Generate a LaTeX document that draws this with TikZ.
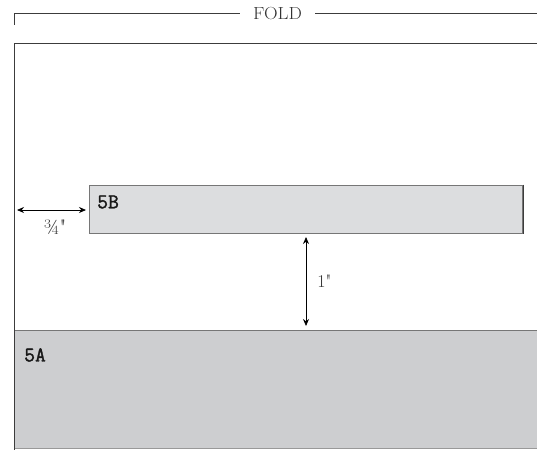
\documentclass[tikz,border=0pt]{standalone}
\usepackage{fontspec}
\newfontfamily\dimfont{Latin Modern Roman}
\newfontfamily\panelfont[FakeBold=1.6]{Latin Modern Mono}
\usetikzlibrary{arrows.meta}
\definecolor{linec}{HTML}{3C3C3C}
\definecolor{textc}{HTML}{333333}
\definecolor{fillB}{HTML}{DCDDDF}
\definecolor{fillA}{HTML}{CDCED0}
\tikzset{
  outline/.style={draw=linec, line width=0.9pt},
  panelB/.style={draw=linec!70, fill=fillB, line width=1pt},
  panelA/.style={fill=fillA},
  dimarrow/.style={{Stealth[length=7pt,width=6pt]}-{Stealth[length=7pt,width=6pt]}, draw=black, line width=0.8pt},
  paneltext/.style={font=\panelfont\fontsize{21}{21}\selectfont, text=black!90, anchor=west, inner sep=0pt},
  dimtext/.style={font=\dimfont\fontsize{18}{18}\selectfont, text=textc, inner sep=0pt},
}
\begin{document}
\begin{tikzpicture}[x=1pt,y=-1pt]
\useasboundingbox (0,0) rectangle (537,450);
% fold line
\node[font=\fontsize{17.5}{17.5}\selectfont, text=textc, inner sep=0pt, xscale=1.08] (fold) at (277.5,13.5) {FOLD};
\coordinate (ftick) at (14,24.5);
\coordinate (fl) at (14,13.7);
\coordinate (fgl) at (240,13.7);
\coordinate (fgr) at (315,13.7);
\coordinate (fr) at (537,13.7);
\draw[outline] (ftick) -- (fl) -- (fgl);
\draw[outline] (fgr) -- (fr);
% panel A
\path[panelA] (14,330) rectangle (537,448);
\draw[draw=linec!70, line width=0.9pt] (14,330) -- (537,330);
\draw[draw=black!40, line width=0.9pt] (14,448) -- (537,448);
% outline
\draw[outline] (537,43) -- (14,43) -- (14,450);
% panel B
\node[panelB, minimum width=433pt, minimum height=48pt, anchor=north west, inner sep=0pt] (B) at (89,184.5) {};
\draw[draw=linec, line width=1pt] (B.north east) -- (B.south east);
\node[paneltext] (lB) at (97,202) {5B};
\node[paneltext] (lA) at (24,355) {5A};
% dimension arrows
\coordinate (hl) at (17,210);
\coordinate (hr) at (86,210);
\draw[dimarrow] (hl) -- (hr);
\node[dimtext, font=\dimfont\fontsize{21}{21}\selectfont] (q) at (55,227) {¾"};
\coordinate (vt) at (306,237);
\coordinate (vb) at (306,326);
\draw[dimarrow] (vt) -- (vb);
\node[dimtext] (one) at (324.5,281) {1"};
\end{tikzpicture}
\end{document}
